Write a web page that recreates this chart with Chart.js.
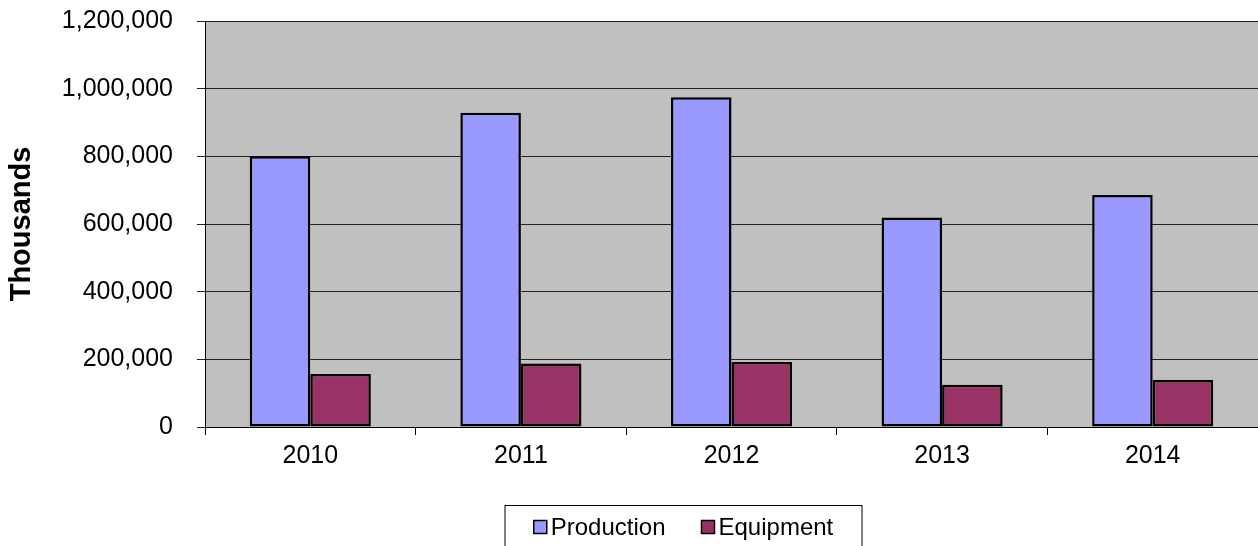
<!DOCTYPE html>
<html>
<head>
<meta charset="utf-8">
<script src="https://cdn.jsdelivr.net/npm/chart.js@4"></script>
<style>
  html, body { margin: 0; padding: 0; background: #fff; overflow: hidden; }
</style>
</head>
<body>
<canvas id="chart" width="1258" height="546"></canvas>
<script>
var years = ["2010", "2011", "2012", "2013", "2014"];
var production = [800000, 929000, 975000, 619000, 686000];
var equipment = [157000, 188000, 192000, 125000, 139000];
var seriesNames = ["Production", "Equipment"];
var yMax = 1200000;
var yStep = 200000;

var FONT = '"Liberation Sans", Arial, sans-serif';

// grey plot background
var plotBg = {
    id: "plotBg",
    beforeDraw: function(chart) {
        var a = chart.chartArea;
        var ctx = chart.ctx;
        ctx.save();
        ctx.fillStyle = "#C0C0C0";
        ctx.fillRect(a.left, a.top, a.right - a.left, a.bottom - a.top);
        ctx.restore();
    }
};

// boxed legend at the bottom, like the original
var boxLegend = {
    id: "boxLegend",
    afterDraw: function(chart) {
        var ctx = chart.ctx;
        ctx.save();
        ctx.font = "24px " + FONT;
        var items = chart.data.datasets.map(function(d) {
            return { label: d.label, color: d.backgroundColor, w: ctx.measureText(d.label).width };
        });
        var box = 13, gap = 4, spacing = 36;
        var total = items.reduce(function(s, it) { return s + box + gap + it.w; }, 0) + spacing * (items.length - 1);
        var cx = 683.5, top = 505.5, bw = 357, h = 50;
        ctx.fillStyle = "#fff";
        ctx.fillRect(cx - bw / 2, top, bw, h);
        ctx.strokeStyle = "#000";
        ctx.lineWidth = 1;
        ctx.strokeRect(cx - bw / 2, top, bw, h);
        var x = cx - total / 2;
        var cy = 527;
        ctx.textBaseline = "middle";
        ctx.textAlign = "left";
        items.forEach(function(it) {
            ctx.fillStyle = it.color;
            ctx.fillRect(x, cy - box / 2, box, box);
            ctx.lineWidth = 1.5;
            ctx.strokeStyle = "#000";
            ctx.strokeRect(x, cy - box / 2, box, box);
            ctx.fillStyle = "#000";
            ctx.fillText(it.label, x + box + gap, cy + 1);
            x += box + gap + it.w + spacing;
        });
        ctx.restore();
    }
};

var ctx = document.getElementById("chart").getContext("2d");
new Chart(ctx, {
    type: "bar",
    data: {
        labels: years,
        datasets: [{
            label: seriesNames[0],
            data: production,
            backgroundColor: "#9999FF",
            borderColor: "#000",
            borderWidth: 2.5,
            borderSkipped: false
        }, {
            label: seriesNames[1],
            data: equipment,
            backgroundColor: "#993366",
            borderColor: "#000",
            borderWidth: 2.5,
            borderSkipped: false
        }]
    },
    options: {
        responsive: false,
        animation: false,
        layout: { padding: { top: 21, left: 0, right: 0, bottom: 0 } },
        datasets: {
            bar: { categoryPercentage: 0.575, barPercentage: 1.0 }
        },
        plugins: {
            legend: { display: false },
            tooltip: { enabled: false }
        },
        scales: {
            x: {
                grid: { display: true, drawOnChartArea: false, drawTicks: true, tickLength: 8, color: "#000", offset: true },
                border: { color: "#000", width: 1 },
                ticks: { color: "#000", padding: 6, font: { family: FONT, size: 25 } },
                afterFit: function(scale) { scale.height = 119; }
            },
            y: {
                min: 0,
                max: yMax,
                grid: { color: "#222", lineWidth: 1, tickLength: 8 },
                border: { color: "#000", width: 1 },
                ticks: {
                    stepSize: yStep,
                    color: "#000",
                    padding: 24,
                    font: { family: FONT, size: 25 },
                    callback: function(v) { return Number(v).toLocaleString("en-US"); }
                },
                title: {
                    display: true,
                    text: "Thousands",
                    color: "#000",
                    font: { family: FONT, size: 29, weight: "bold" },
                    padding: { top: 5, bottom: 0 }
                },
                afterFit: function(scale) {
                    scale.width = 205;
                    scale.paddingTop = 0;
                    scale.paddingBottom = 0;
                }
            }
        }
    },
    plugins: [plotBg, boxLegend]
});
</script>
</body>
</html>
